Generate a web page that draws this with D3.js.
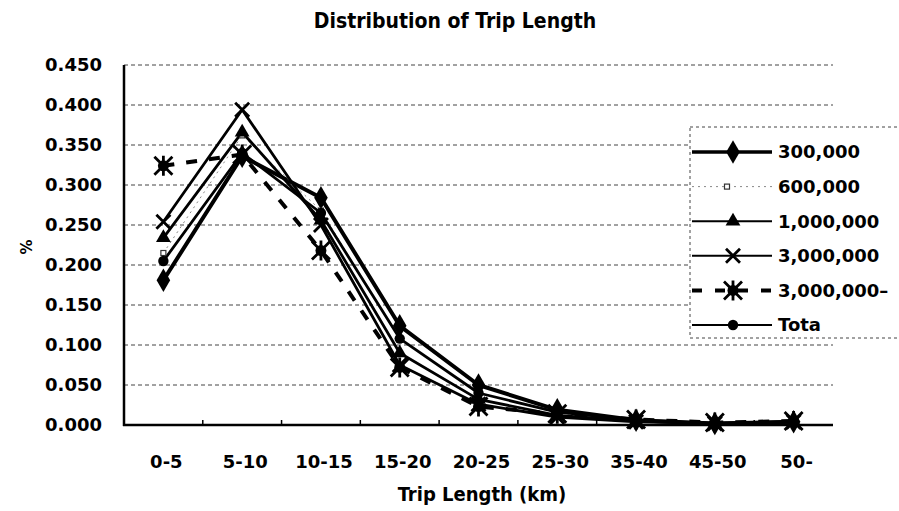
<!DOCTYPE html>
<html>
<head>
<meta charset="utf-8">
<script src="https://cdn.jsdelivr.net/npm/d3@7"></script>
<style>
  html, body { margin: 0; padding: 0; background: #fff; }
  svg { display: block; }
</style>
</head>
<body>
<svg id="chart" width="899" height="511"></svg>
<script>
// ---- data ----
const categories = ["0-5", "5-10", "10-15", "15-20", "20-25", "25-30", "35-40", "45-50", "50-"];
const s300k   = [0.181, 0.336, 0.284, 0.124, 0.050, 0.019, 0.006, 0.002, 0.004];
const s600k   = [0.215, 0.362, 0.268, 0.108, 0.040, 0.015, 0.005, 0.002, 0.004];
const s1m     = [0.234, 0.366, 0.256, 0.090, 0.032, 0.012, 0.005, 0.002, 0.004];
const s3m     = [0.254, 0.394, 0.250, 0.075, 0.026, 0.010, 0.004, 0.002, 0.004];
const s3mPlus = [0.324, 0.338, 0.218, 0.072, 0.023, 0.014, 0.007, 0.003, 0.005];
const sTotal  = [0.205, 0.340, 0.265, 0.108, 0.040, 0.016, 0.006, 0.002, 0.004];
const seriesNames = ["300,000", "600,000", "1,000,000", "3,000,000", "3,000,000–", "Tota"];
const yTicks = [0, 0.05, 0.10, 0.15, 0.20, 0.25, 0.30, 0.35, 0.40, 0.45];
const titleText = "Distribution of Trip Length";
const xTitle = "Trip Length (km)";
const yTitle = "%";

const series = [
  { name: seriesNames[0], values: s300k,   marker: "diamond",  width: 4,   dash: null },
  { name: seriesNames[1], values: s600k,   marker: "open",     width: 1,   dash: "2,4", color: "#888" },
  { name: seriesNames[2], values: s1m,     marker: "triangle", width: 2.8, dash: null },
  { name: seriesNames[3], values: s3m,     marker: "x",        width: 2.8, dash: null },
  { name: seriesNames[4], values: s3mPlus, marker: "asterisk", width: 4,   dash: "11,12" },
  { name: seriesNames[5], values: sTotal,  marker: "circle",   width: 2.8, dash: null }
];

// ---- layout ----
const svg = d3.select("#chart");
const mLeft = 124, mRight = 833, mTop = 65, mBottom = 425;
const tickFont = "'DejaVu Sans', sans-serif";
const condFont = "'DejaVu Sans Condensed', 'DejaVu Sans', sans-serif";

const x = d3.scaleBand().domain(categories).range([mLeft, mRight]);
const cx = c => x(c) + x.bandwidth() / 2;
const y = d3.scaleLinear().domain([0, 0.45]).range([mBottom, mTop]);

svg.append("rect").attr("width", 899).attr("height", 511).attr("fill", "#fff");

// gridlines
svg.append("g").selectAll("line").data(yTicks.filter(d => d > 0)).join("line")
  .attr("x1", mLeft).attr("x2", mRight)
  .attr("y1", d => y(d)).attr("y2", d => y(d))
  .attr("stroke", "#444").attr("stroke-width", 1).attr("stroke-dasharray", "4,3");

// y axis
const yAxis = svg.append("g").attr("transform", `translate(${mLeft},0)`)
  .call(d3.axisLeft(y).tickValues(yTicks).tickFormat(d3.format(".3f")).tickSize(0).tickPadding(22));
yAxis.select(".domain").remove();
yAxis.selectAll("text").attr("font-family", tickFont).attr("font-weight", "bold")
  .attr("font-size", 18).attr("fill", "#000");
svg.append("line").attr("x1", mLeft).attr("x2", mLeft).attr("y1", mTop).attr("y2", mBottom + 1)
  .attr("stroke", "#000").attr("stroke-width", 2.5);

// x axis
const xAxis = svg.append("g").attr("transform", `translate(0,${mBottom})`)
  .call(d3.axisBottom(x).tickSize(0).tickPadding(30));
xAxis.select(".domain").remove();
xAxis.selectAll("text").attr("font-family", tickFont).attr("font-weight", "bold")
  .attr("font-size", 18).attr("fill", "#000").attr("dx", 3);
svg.append("line").attr("x1", mLeft - 1).attr("x2", mRight).attr("y1", mBottom).attr("y2", mBottom)
  .attr("stroke", "#000").attr("stroke-width", 2.5);
// small inward ticks at category boundaries
svg.append("g").selectAll("line").data(categories.slice(1)).join("line")
  .attr("x1", d => x(d)).attr("x2", d => x(d))
  .attr("y1", mBottom).attr("y2", mBottom - 5)
  .attr("stroke", "#000").attr("stroke-width", 1.5);

// ---- markers ----
function drawMarker(g, type, px, py) {
  if (type === "diamond") {
    g.append("path").attr("d", d3.symbol().type(d3.symbolDiamond).size(160)())
      .attr("transform", `translate(${px},${py})`).attr("fill", "#000");
  } else if (type === "triangle") {
    g.append("path").attr("d", d3.symbol().type(d3.symbolTriangle).size(95)())
      .attr("transform", `translate(${px},${py})`).attr("fill", "#000");
  } else if (type === "circle") {
    g.append("circle").attr("cx", px).attr("cy", py).attr("r", 5.2).attr("fill", "#000");
  } else if (type === "open") {
    g.append("rect").attr("x", px - 2.5).attr("y", py - 2.5).attr("width", 5).attr("height", 5)
      .attr("fill", "#fff").attr("stroke", "#333").attr("stroke-width", 1.2);
  } else if (type === "x") {
    const s = 7;
    g.append("path").attr("d", `M${px - s},${py - s}L${px + s},${py + s}M${px - s},${py + s}L${px + s},${py - s}`)
      .attr("stroke", "#000").attr("stroke-width", 2.8).attr("fill", "none");
  } else if (type === "asterisk") {
    const s = 9;
    g.append("path").attr("d",
      `M${px - s},${py - s}L${px + s},${py + s}M${px - s},${py + s}L${px + s},${py - s}M${px},${py - s - 1}L${px},${py + s + 1}`)
      .attr("stroke", "#000").attr("stroke-width", 2.8).attr("fill", "none");
    g.append("circle").attr("cx", px).attr("cy", py).attr("r", 5.5).attr("fill", "#000");
  }
}

// ---- lines ----
const line = d3.line().x((d, i) => cx(categories[i])).y(d => y(d));
const plot = svg.append("g");
series.forEach(s => {
  plot.append("path").datum(s.values).attr("d", line)
    .attr("fill", "none").attr("stroke", s.color || "#000")
    .attr("stroke-width", s.width).attr("stroke-linejoin", "round")
    .attr("stroke-dasharray", s.dash);
});
series.forEach(s => {
  const g = plot.append("g");
  s.values.forEach((v, i) => drawMarker(g, s.marker, cx(categories[i]), y(v)));
});

// ---- legend ----
const lg = svg.append("g");
lg.append("rect").attr("x", 690).attr("y", 127).attr("width", 220).attr("height", 211)
  .attr("fill", "#fff").attr("stroke", "#444").attr("stroke-width", 1).attr("stroke-dasharray", "3,3");
series.forEach((s, i) => {
  const ly = 152 + i * 34.6;
  lg.append("line").attr("x1", 692).attr("x2", 772).attr("y1", ly).attr("y2", ly)
    .attr("stroke", s.color || "#000")
    .attr("stroke-width", s.marker === "diamond" ? 3.5 : (s.marker === "asterisk" ? 4 : (s.width > 1 ? 2 : 1)))
    .attr("stroke-dasharray", s.marker === "asterisk" ? "10,13" : s.dash);
  drawMarker(lg, s.marker, s.marker === "open" ? 727 : 733, ly);
  lg.append("text").attr("x", 778).attr("y", ly).attr("dy", "0.36em")
    .attr("font-family", tickFont).attr("font-weight", "bold").attr("font-size", 18)
    .attr("fill", "#000").text(s.name);
});

// ---- titles ----
svg.append("text").attr("x", 455).attr("y", 28).attr("text-anchor", "middle")
  .attr("font-family", condFont).attr("font-size", 21)
  .attr("font-weight", "bold").attr("fill", "#000").text(titleText);
svg.append("text").attr("x", 482).attr("y", 501).attr("text-anchor", "middle")
  .attr("font-family", condFont).attr("font-size", 20)
  .attr("font-weight", "bold").attr("fill", "#000").text(xTitle);
svg.append("text").attr("transform", "translate(32,247) rotate(-90)").attr("text-anchor", "middle")
  .attr("font-family", tickFont).attr("font-weight", "bold").attr("font-size", 15)
  .attr("fill", "#000").text(yTitle);
</script>
</body>
</html>
